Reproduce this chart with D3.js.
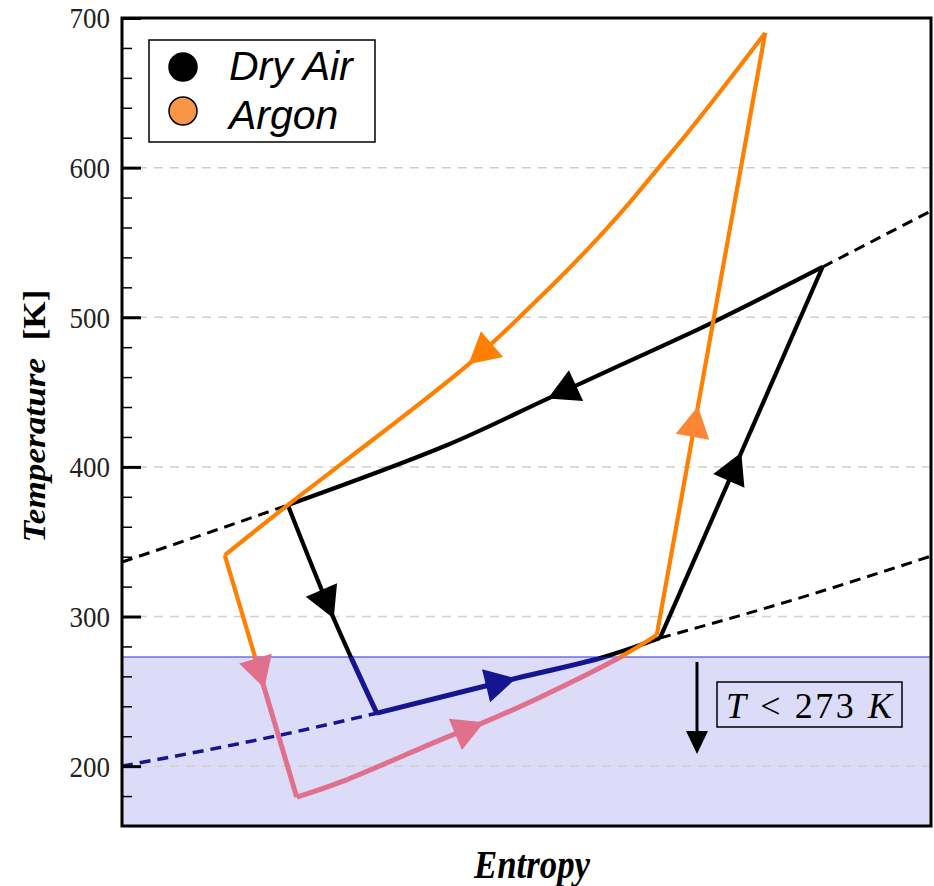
<!DOCTYPE html>
<html>
<head>
<meta charset="utf-8">
<script src="https://cdn.jsdelivr.net/npm/d3@7"></script>
<style>
  body { margin: 0; background: #fff; }
  svg { display: block; }
</style>
</head>
<body>
<div id="chart"></div>
<script>
// T-s diagram, entropy has no scale in the original so it runs 0..100 here

// dry air cycle, legs between state points [s, T]
const airAD = [[20.5, 374.5], [26.1, 299.6], [31.5, 235.4]]
const airDC = [[31.5, 235.4], [48.8, 258.8], [59.1, 272.2], [66.5, 285.6]]
const airCB = [[66.5, 285.6], [86.6, 533.6]]
const airBA = [[86.6, 533.6], [73.1, 496.8], [61.6, 468.0], [52.5, 445.3], [40.2, 414.6], [20.5, 374.5]]

// argon cycle
const argonHE = [[79.5, 690.0], [73.9, 650.5], [69.8, 622.5], [66.7, 602.4], [62.8, 577.0], [57.8, 546.9], [51.7, 513.5], [43.0, 469.4], [27.0, 401.5], [20.5, 374.5], [12.7, 341.0]]
const argonEF = [[12.7, 341.0], [21.6, 179.3]]
const argonFG = [[21.6, 179.3], [27.0, 189.3], [39.3, 217.4], [45.1, 230.1], [51.7, 246.1], [61.6, 272.9], [66.1, 287.6]]
const argonGH = [[66.1, 287.6], [79.5, 690.0]]

// dashed isobars
const isoHighLeft = [[0, 336.4], [10.5, 355.7], [20.5, 374.5]]
const isoHighRight = [[86.6, 533.6], [100, 571.0]]
const isoLowLeft = [[0, 200.0], [19.5, 220.7], [31.5, 235.4]]
const isoLowRight = [[66.5, 285.6], [82.9, 311.0], [100, 340.4]]

const freezeT = 273
const tempTicks = [200, 300, 400, 500, 600, 700]
const tempMinor = [180, 220, 240, 260, 280, 320, 340, 360, 380, 420, 440, 460, 480, 520, 540, 560, 580, 620, 640, 660, 680]
const legendNames = ['Dry Air', 'Argon']

const width = 934, height = 886
const margin = {left: 122, top: 18, right: 3, bottom: 60}

const x = d3.scaleLinear().domain([0, 100]).range([margin.left, width - margin.right])
const y = d3.scaleLinear().domain([160, 700]).range([height - margin.bottom, margin.top])

const col = {
	air: '#000000', airCold: '#15158f',
	argon: '#ff8000', argonCold: '#e0708c',
	shade: '#dcdcf9', freeze: '#6e6ef4', grid: '#cfcfcf'
}

const svg = d3.select('#chart').append('svg')
.attr('width', width)
.attr('height', height)
.style('font-family', '"Liberation Serif", serif')

const defs = svg.append('defs')

defs.append('clipPath').attr('id', 'clip-warm')
.append('rect')
.attr('x', x(0)).attr('y', y(700))
.attr('width', x(100) - x(0)).attr('height', y(freezeT) - y(700))

defs.append('clipPath').attr('id', 'clip-cold')
.append('rect')
.attr('x', x(0)).attr('y', y(freezeT))
.attr('width', x(100) - x(0)).attr('height', y(160) - y(freezeT))

// cold region
svg.append('rect')
.attr('x', x(0)).attr('y', y(freezeT))
.attr('width', x(100) - x(0)).attr('height', y(160) - y(freezeT))
.attr('fill', col.shade)

// grid
svg.append('g')
.selectAll('line')
.data(tempTicks.filter(d => d < 700))
.join('line')
.attr('x1', x(0)).attr('x2', x(100))
.attr('y1', d => y(d)).attr('y2', d => y(d))
.attr('stroke', col.grid)
.attr('stroke-width', 1.5)
.attr('stroke-dasharray', '9,7')

svg.append('line')
.attr('x1', x(0)).attr('x2', x(100))
.attr('y1', y(freezeT)).attr('y2', y(freezeT))
.attr('stroke', col.freeze)
.attr('stroke-width', 1.5)

const line = d3.line().curve(d3.curveCatmullRom.alpha(0.5)).x(d => x(d[0])).y(d => y(d[1]))
const smooth = d3.line().curve(d3.curveMonotoneX).x(d => x(d[0])).y(d => y(d[1]))

// draws a path twice, warm part and cold part
const splitPath = (g, gen, pts, warm, cold, w, wc, dash) => {
	g.append('path').attr('d', gen(pts))
	.attr('clip-path', 'url(#clip-warm)')
	.attr('fill', 'none').attr('stroke', warm).attr('stroke-width', w)
	.attr('stroke-linejoin', 'miter').attr('stroke-dasharray', dash)

	g.append('path').attr('d', gen(pts))
	.attr('clip-path', 'url(#clip-cold)')
	.attr('fill', 'none').attr('stroke', cold).attr('stroke-width', wc)
	.attr('stroke-linejoin', 'miter').attr('stroke-dasharray', dash)
}

const isoG = svg.append('g')
;[isoHighLeft, isoHighRight, isoLowLeft, isoLowRight].forEach(pts => {
	splitPath(isoG, smooth, pts, col.air, col.airCold, 3, 3.5, '11,7')
})

const airG = svg.append('g')
;[airAD, airDC, airCB, airBA].forEach(pts => {
	splitPath(airG, line, pts, col.air, col.airCold, 4.2, 5)
})

const argonG = svg.append('g')
;[argonHE, argonEF, argonFG, argonGH].forEach(pts => {
	splitPath(argonG, line, pts, col.argon, col.argonCold, 4.2, 5)
})

// arrowheads, placed at a fraction of each leg
const arrows = [
	{pts: airAD, at: 0.54, warm: col.air, cold: col.airCold},
	{pts: airDC, at: 0.49, warm: col.air, cold: col.airCold},
	{pts: airCB, at: 0.50, warm: col.air, cold: col.airCold},
	{pts: airBA, at: 0.52, warm: col.air, cold: col.airCold},
	{pts: argonHE, at: 0.59, warm: col.argon, cold: col.argonCold},
	{pts: argonEF, at: 0.55, warm: col.argon, cold: col.argonCold},
	{pts: argonFG, at: 0.51, warm: col.argon, cold: col.argonCold},
	{pts: argonGH, at: 0.38, warm: '#fb8736', cold: col.argonCold}
]

const arrowLen = 31, arrowHalf = 17
const arrowG = svg.append('g')

arrows.forEach(a => {
	let node = d3.create('svg:path').attr('d', line(a.pts)).node()
	let total = node.getTotalLength()
	let p = node.getPointAtLength(a.at * total)
	let q = node.getPointAtLength(a.at * total - 2)
	let dx = p.x - q.x, dy = p.y - q.y
	let n = Math.hypot(dx, dy)
	dx /= n; dy /= n
	let bx = p.x - arrowLen * dx, by = p.y - arrowLen * dy
	let tri = [[p.x, p.y], [bx - arrowHalf * dy, by + arrowHalf * dx], [bx + arrowHalf * dy, by - arrowHalf * dx]]

	arrowG.append('path')
	.attr('d', 'M' + tri.join('L') + 'Z')
	.attr('fill', y.invert(p.y) < freezeT ? a.cold : a.warm)
})

// axes
const axisG = svg.append('g').attr('transform', `translate(${x(0)},0)`)

axisG.append('g')
.call(d3.axisLeft(y).tickValues(tempMinor).tickSizeInner(-10).tickSizeOuter(0).tickFormat(''))
.call(g => g.select('.domain').remove())
.selectAll('line').attr('stroke', '#000').attr('stroke-width', 1.5)

axisG.append('g')
.call(d3.axisLeft(y).tickValues(tempTicks).tickSizeInner(-19).tickSizeOuter(0).tickPadding(12))
.call(g => g.select('.domain').remove())
.call(g => g.selectAll('line').attr('stroke', '#000').attr('stroke-width', 3))
.selectAll('text')
.attr('font-family', '"Liberation Serif", serif')
.attr('font-size', 27)
.attr('fill', '#222')
.attr('dy', '0.34em')
.attr('transform', 'scale(1,1.08)')

// frame
svg.append('rect')
.attr('x', x(0)).attr('y', y(700))
.attr('width', x(100) - x(0)).attr('height', y(160) - y(700))
.attr('fill', 'none')
.attr('stroke', '#000')
.attr('stroke-width', 3)

// axis titles
svg.append('text')
.attr('transform', 'translate(45,416) rotate(-90)')
.attr('text-anchor', 'middle')
.attr('font-size', 32)
.attr('font-weight', 'bold')
.attr('font-style', 'italic')
.attr('textLength', 253)
.attr('lengthAdjust', 'spacingAndGlyphs')
.text('Temperature\u00a0\u00a0')
.append('tspan').attr('font-style', 'normal').text('[K]')

svg.append('g')
.attr('transform', 'translate(532,878) scale(1,1.12)')
.append('text')
.attr('text-anchor', 'middle')
.attr('font-size', 35)
.attr('font-weight', 'bold')
.attr('font-style', 'italic')
.attr('textLength', 116)
.attr('lengthAdjust', 'spacingAndGlyphs')
.text('Entropy')

// legend
const legend = svg.append('g')

legend.append('rect')
.attr('x', 149).attr('y', 40)
.attr('width', 226).attr('height', 102)
.attr('fill', '#fff')
.attr('stroke', '#000')
.attr('stroke-width', 1.5)

legend.selectAll('circle')
.data(legendNames)
.join('circle')
.attr('cx', 183)
.attr('cy', (d, i) => 67 + i * 44)
.attr('r', 14)
.attr('fill', (d, i) => i ? '#f79646' : '#000')
.attr('stroke', '#000')
.attr('stroke-width', 1.5)

legend.selectAll('text')
.data(legendNames)
.join('text')
.attr('x', 229)
.attr('y', (d, i) => 80 + i * 49)
.attr('font-family', '"Liberation Sans", Arial, sans-serif')
.attr('font-style', 'italic')
.attr('font-size', 41)
.text(d => d)

// freezing note
const note = svg.append('g')

note.append('line')
.attr('x1', 697).attr('x2', 697)
.attr('y1', y(freezeT) + 5).attr('y2', y(freezeT) + 76)
.attr('stroke', '#000')
.attr('stroke-width', 3)

note.append('path')
.attr('d', `M686,${y(freezeT) + 74}L708,${y(freezeT) + 74}L697,${y(freezeT) + 97}Z`)
.attr('fill', '#000')

note.append('rect')
.attr('x', 717).attr('y', 682)
.attr('width', 185).attr('height', 45)
.attr('fill', 'none')
.attr('stroke', '#000')
.attr('stroke-width', 1.5)

const noteText = note.append('text')
.attr('x', 726).attr('y', 718)
.attr('font-size', 36)
.attr('textLength', 166)
.attr('lengthAdjust', 'spacing')

noteText.append('tspan').attr('font-style', 'italic').text('T')
noteText.append('tspan').text(' < 273 ')
noteText.append('tspan').attr('font-style', 'italic').text('K')
</script>
</body>
</html>
